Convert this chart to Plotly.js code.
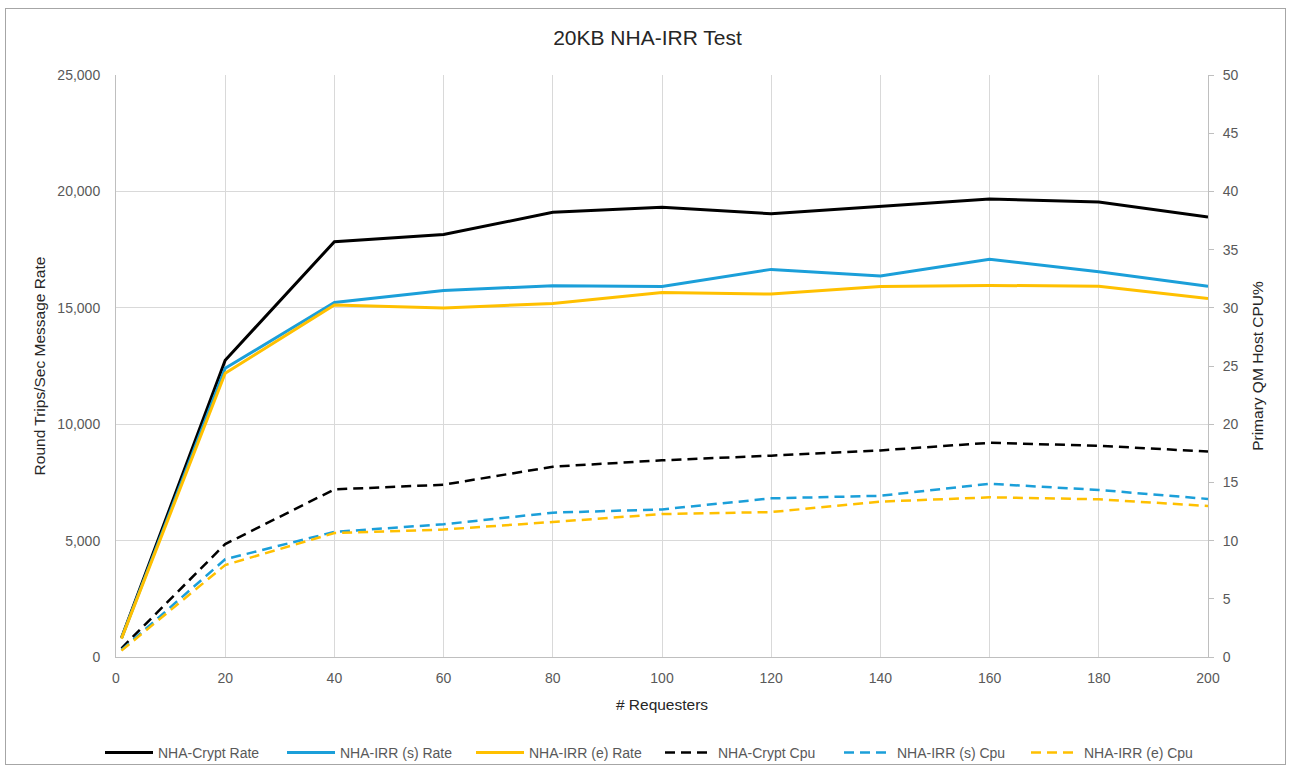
<!DOCTYPE html>
<html>
<head>
<meta charset="utf-8">
<script src="https://cdn.plot.ly/plotly-3.0.1.min.js"></script>
<style>
  html, body { margin: 0; padding: 0; background: #ffffff; }
  #frame { position: absolute; left: 5px; top: 8px; width: 1281px; height: 757px; border: 1px solid #a6a6a6; box-sizing: border-box; }
  #chart { position: absolute; left: 0; top: 0; width: 1295px; height: 773px; }
</style>
</head>
<body>
<div id="chart"></div>
<div id="frame"></div>
<script>
// Number of requesters on the x axis
const requesters = [1, 20, 40, 60, 80, 100, 120, 140, 160, 180, 200];

// Round trips per second (left axis)
const cryptRate = [820, 12750, 17840, 18150, 19100, 19320, 19040, 19350, 19670, 19540, 18900];
const irrSRate  = [800, 12400, 15230, 15740, 15950, 15920, 16650, 16370, 17080, 16550, 15920];
const irrERate  = [790, 12190, 15120, 14990, 15190, 15660, 15590, 15920, 15960, 15930, 15400];

// Primary QM host CPU % (right axis)
const cryptCpu = [0.75, 9.7, 14.4, 14.8, 16.35, 16.9, 17.3, 17.75, 18.4, 18.15, 17.65];
const irrSCpu  = [0.6, 8.4, 10.75, 11.4, 12.4, 12.68, 13.63, 13.85, 14.88, 14.35, 13.58];
const irrECpu  = [0.55, 7.9, 10.65, 10.95, 11.6, 12.28, 12.45, 13.35, 13.72, 13.55, 12.97];

const BLACK = '#000000';
const BLUE = '#1b9fd9';
const GOLD = '#ffc000';
const DASH = '10px,6px';

function rate(name, y, color, lw) {
  return { type: 'scatter', mode: 'lines', name: name, x: requesters, y: y,
           line: { color: color, width: 3 }, yaxis: 'y', legendwidth: lw };
}
function cpu(name, y, color, lw) {
  return { type: 'scatter', mode: 'lines', name: name, x: requesters, y: y,
           line: { color: color, width: 2.5, dash: DASH }, yaxis: 'y2', legendwidth: lw };
}

const data = [
  rate('NHA-Crypt Rate', cryptRate, BLACK, 119),
  rate('NHA-IRR (s) Rate', irrSRate, BLUE, 126),
  rate('NHA-IRR (e) Rate', irrERate, GOLD, 126),
  cpu('NHA-Crypt Cpu', cryptCpu, BLACK, 116),
  cpu('NHA-IRR (s) Cpu', irrSCpu, BLUE, 124),
  cpu('NHA-IRR (e) Cpu', irrECpu, GOLD, 106)
];

const FONT = 'Liberation Sans, Arial, sans-serif';
const tickFont = { family: FONT, size: 14, color: '#595959' };
const axisTitleFont = { family: FONT, size: 15.5, color: '#262626' };

const layout = {
  width: 1295, height: 773,
  margin: { l: 116, r: 87, t: 75, b: 116 },
  paper_bgcolor: '#ffffff', plot_bgcolor: '#ffffff',
  showlegend: true,
  title: {
    text: '20KB NHA-IRR Test',
    x: 0.5, xref: 'container', xanchor: 'center',
    y: 1 - 38 / 773, yref: 'container', yanchor: 'middle',
    font: { family: FONT, size: 21, color: '#262626' }
  },
  xaxis: {
    range: [0, 200], dtick: 20, tick0: 0,
    showgrid: true, gridcolor: '#d9d9d9', gridwidth: 1,
    showline: true, linecolor: '#bfbfbf', linewidth: 1,
    zeroline: false, ticks: '', ticklabelstandoff: 8,
    tickfont: tickFont,
    title: { text: '# Requesters', font: axisTitleFont, standoff: 14 },
    automargin: false
  },
  yaxis: {
    range: [0, 25000], dtick: 5000, tick0: 0, tickformat: ',d',
    showgrid: true, gridcolor: '#d9d9d9', gridwidth: 1,
    showline: true, linecolor: '#bfbfbf', linewidth: 1,
    zeroline: false, ticks: '', ticklabelstandoff: 12,
    tickfont: tickFont,
    title: { text: 'Round Trips/Sec Message Rate', font: axisTitleFont, standoff: 7 },
    automargin: false
  },
  yaxis2: {
    overlaying: 'y', side: 'right',
    range: [0, 50], dtick: 5, tick0: 0,
    showgrid: false, zeroline: false,
    showline: true, linecolor: '#bfbfbf', linewidth: 1,
    ticks: 'outside', ticklen: 5, tickcolor: '#bfbfbf', ticklabelstandoff: 6,
    tickfont: tickFont,
    title: {
      text: 'Primary QM Host CPU%', standoff: 14,
      font: { family: FONT, size: 15.5, color: '#262626' }
    },
    automargin: false
  },
  legend: {
    orientation: 'h',
    x: 0.5, xref: 'container', xanchor: 'center',
    y: 1 - 753 / 773, yref: 'container', yanchor: 'middle',
    font: { family: FONT, size: 14, color: '#595959' },
    itemwidth: 48,
    traceorder: 'normal',
    bgcolor: 'rgba(0,0,0,0)'
  }
};

Plotly.newPlot('chart', data, layout, { displayModeBar: false, staticPlot: true });
</script>
</body>
</html>
